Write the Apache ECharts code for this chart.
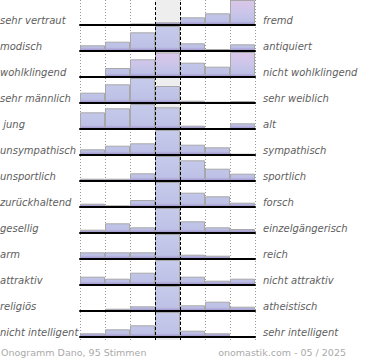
<!DOCTYPE html>
<html><head><meta charset="utf-8">
<script src="https://cdn.jsdelivr.net/npm/echarts@6/dist/echarts.min.js"></script>
<style>html,body{margin:0;padding:0;background:#fff}#c{width:370px;height:360px}</style>
</head><body><div id="c"></div>
<script>
// Labels
var leftLabels = ['sehr vertraut','modisch','wohlklingend','sehr männlich',' jung','unsympathisch','unsportlich','zurückhaltend','gesellig','arm','attraktiv','religiös','nicht intelligent'];
var rightLabels = ['fremd','antiquiert','nicht wohlklingend','sehr weiblich','alt','sympathisch','sportlich','forsch','einzelgängerisch','reich','nicht attraktiv','atheistisch','sehr intelligent'];
var scaleSteps = ['1','2','3','4','5','6','7'];
// Relative bar heights per row (row maximum = 25)
var vertraut     = [0, 0, 1.5, 2.7, 7.7, 11.7, 25];
var modisch      = [5.7, 9.3, 18.7, 25, 7.7, 2, 6.7];
var wohlklingend = [0, 9, 17.7, 24.6, 14.3, 10.3, 25];
var maennlich    = [10.3, 18.7, 25, 17, 2.3, 1.3, 2];
var jung         = [16.7, 20.7, 25, 21.7, 3.3, 0, 5.7];
var unsympathisch= [5.7, 9.3, 11.7, 25, 10.3, 7.7, 1.3];
var unsportlich  = [2.3, 2.3, 7.7, 25, 20.7, 12.3, 7.3];
var zurueck      = [3.3, 1.7, 7, 25, 14.3, 10.7, 4.3];
var gesellig     = [3.3, 9.7, 5.7, 25, 11.7, 5.7, 4];
var arm          = [6.7, 6.7, 6.7, 25, 4.3, 3.3, 1];
var attraktiv    = [8.3, 6.3, 12.3, 25, 8.3, 4.3, 6.3];
var religioes    = [1, 2.3, 4.7, 25, 5.7, 9.3, 4.3];
var intelligent  = [3.7, 7.7, 11.7, 25, 6.3, 3.7, 0];
var rows = [vertraut, modisch, wohlklingend, maennlich, jung, unsympathisch, unsportlich, zurueck, gesellig, arm, attraktiv, religioes, intelligent];
var footerLeft = 'Onogramm Dano, 95 Stimmen';
var footerRight = 'onomastik.com - 05 / 2025';

// style: cells drawn with a pink top tint
var pinkCells = {'0-6':1, '2-2':1, '2-3':1, '2-6':1};

var ROW = 26, H = 25, L = 80, W = 175;
var grids = [], xAxes = [], yAxes = [], series = [], graphics = [];

function grad(i, pink) {
  var y0 = i * ROW, y1 = i * ROW + H;
  var stops = pink ?
    [{offset:0,color:'#dcc6e7'},{offset:0.45,color:'#cdc6ea'},{offset:0.85,color:'#bdc0e6'},{offset:1,color:'#9c8dc8'}] :
    [{offset:0,color:'#c6cbeb'},{offset:0.85,color:'#bec1e6'},{offset:1,color:'#9c8dc8'}];
  return new echarts.graphic.LinearGradient(0, y0, 0, y1, stops, true);
}

rows.forEach(function (vals, i) {
  grids.push({left: L, width: W, top: i * ROW, height: H});
  xAxes.push({type: 'category', gridIndex: i, data: scaleSteps, boundaryGap: true, z: 10,
    axisLine: {show: true, lineStyle: {color: '#000', width: 2}},
    axisTick: {show: false}, axisLabel: {show: false}, splitLine: {show: false}});
  yAxes.push({type: 'value', gridIndex: i, min: 0, max: 25, show: false, splitLine: {show: false}});
  series.push({type: 'bar', xAxisIndex: i, yAxisIndex: i, barWidth: '100%', barCategoryGap: '0%', z: 2,
    silent: true, animation: false,
    data: vals.map(function (v, j) {
      return {value: v, itemStyle: {color: grad(i, pinkCells[i + '-' + j]), borderColor: '#a8a8a8', borderWidth: 1}};
    })});
  graphics.push({type: 'text', left: 0, top: i * ROW + 15, silent: true,
    style: {text: leftLabels[i], font: 'italic 10px "DejaVu Sans"', fill: '#606060'}});
  graphics.push({type: 'text', left: 263, top: i * ROW + 15, silent: true,
    style: {text: rightLabels[i], font: 'italic 10px "DejaVu Sans"', fill: '#606060'}});
});

// background grid for vertical guides and centre shading
var bg = rows.length;
grids.push({left: L, width: W, top: 0, height: 340});
xAxes.push({type: 'value', gridIndex: bg, min: 0, max: 7, interval: 1, z: 0,
  axisLine: {show: false}, axisTick: {show: false}, axisLabel: {show: false},
  splitLine: {show: true, lineStyle: {color: '#999', type: [1, 2], width: 1}}});
yAxes.push({type: 'value', gridIndex: bg, min: 0, max: 1, show: false, splitLine: {show: false}});
series.push({type: 'line', xAxisIndex: bg, yAxisIndex: bg, data: [], z: 1, silent: true, animation: false,
  markArea: {silent: true, itemStyle: {color: '#eeeeee'}, data: [[{xAxis: 3}, {xAxis: 4}]]}});
series.push({type: 'line', xAxisIndex: bg, yAxisIndex: bg, data: [], z: 6, silent: true, animation: false,
  markLine: {silent: true, symbol: 'none', label: {show: false},
    lineStyle: {color: '#000', type: [3, 2], width: 1},
    data: [{xAxis: 3}, {xAxis: 4}]}});

graphics.push({type: 'text', left: 1, top: 347, silent: true,
  style: {text: footerLeft, font: '9.5px "DejaVu Sans"', fill: '#aaa'}});
graphics.push({type: 'text', right: 24, top: 347, silent: true,
  style: {text: footerRight, font: '9.5px "DejaVu Sans"', fill: '#aaa'}});

var chart = echarts.init(document.getElementById('c'), null, {renderer: 'svg'});
chart.setOption({animation: false, grid: grids, xAxis: xAxes, yAxis: yAxes, series: series, graphic: graphics});
</script></body></html>
